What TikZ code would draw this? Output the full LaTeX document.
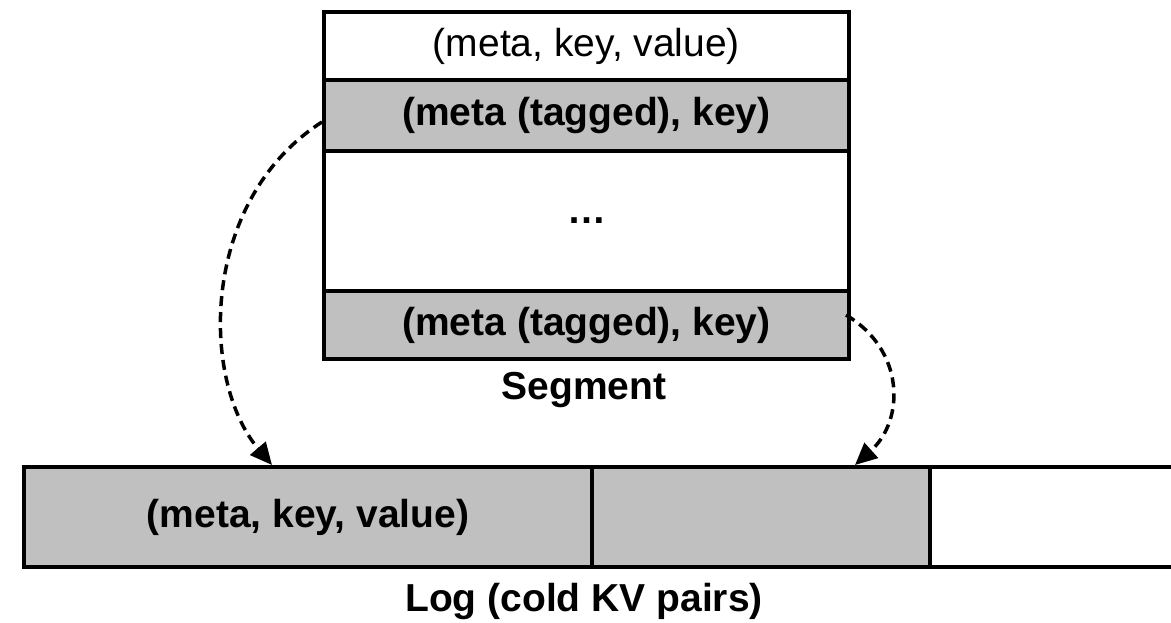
\documentclass[tikz,border=0pt]{standalone}
\usepackage{fontspec}
\setmainfont{Liberation Sans}
\usetikzlibrary{arrows.meta}
\definecolor{cellgray}{HTML}{C0C0C0}
\begin{document}
\begin{tikzpicture}[x=1pt,y=-1pt,
  cell/.style={draw=black,line width=4pt,minimum width=525pt,inner sep=0pt,anchor=north west,
    font=\fontsize{39}{46}\selectfont},
  grayc/.style={cell,fill=cellgray,font=\fontsize{39}{46}\selectfont\bfseries},
  lbl/.style={font=\fontsize{39}{46}\selectfont\bfseries},
  darrow/.style={line width=3.5pt,dash pattern=on 10pt off 6pt,-{Triangle[length=22pt,width=20pt]}}]
\useasboundingbox (0,0) rectangle (1171,622);
% segment
\node[cell,minimum height=68pt] (r1) at (322,10) {(meta, key, value)};
\node[grayc,minimum height=71pt] (r2) at (322,78) {(meta (tagged), key)};
\node[cell,minimum height=140pt,font=\fontsize{39}{46}\selectfont\bfseries] (r3) at (322,149) {\char"2026};
\node[grayc,minimum height=68pt] (r4) at (322,289) {(meta (tagged), key)};
\node[lbl] (seg) at (584,390) {Segment};
% log
\node[grayc,minimum width=568pt,minimum height=100pt] (l1) at (22,465) {(meta, key, value)};
\node[grayc,minimum width=338pt,minimum height=100pt] (l2) at (590,465) {};
\coordinate (l3a) at (l2.north east);
\coordinate (l3b) at (l2.south east);
\draw[line width=4pt] ([xshift=-2pt,yshift=-2pt]l3a) -- ++(260,0);
\draw[line width=4pt] ([xshift=-2pt,yshift=2pt]l3b) -- ++(260,0);
\node[lbl] (log) at (584,601) {Log (cold KV pairs)};
% arrows
\coordinate (s1) at (322,122);
\coordinate (e1) at (272,465);
\coordinate (s2) at (846,315);
\coordinate (e2) at (855,465);
\draw[darrow] (s1) .. controls (200,200) and (200,380) .. (e1);
\draw[darrow] (s2) .. controls (905,350) and (905,420) .. (e2);
\end{tikzpicture}
\end{document}
